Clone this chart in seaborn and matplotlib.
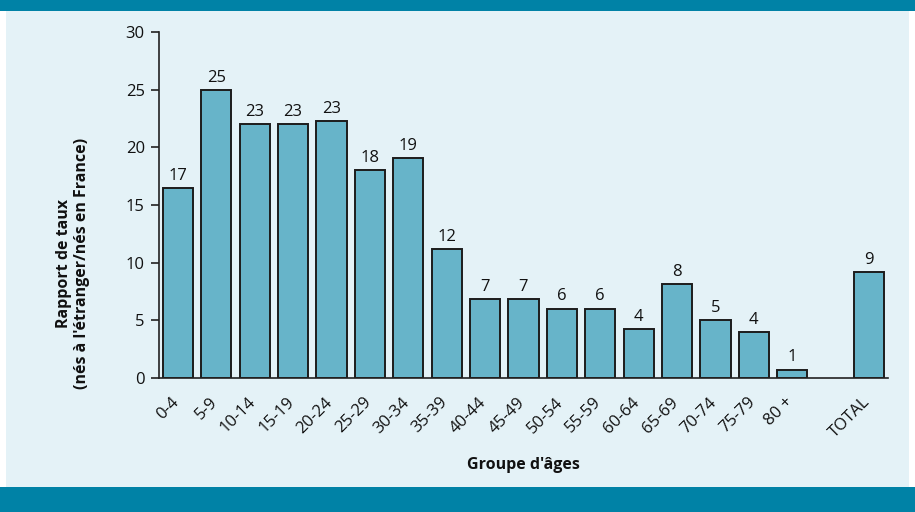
import matplotlib
matplotlib.use("Agg")
import matplotlib.pyplot as plt
from matplotlib.patches import Rectangle
from matplotlib.transforms import ScaledTranslation
import seaborn as sns
import pandas as pd

# ---- data ----
groups = ["0-4", "5-9", "10-14", "15-19", "20-24", "25-29", "30-34", "35-39",
          "40-44", "45-49", "50-54", "55-59", "60-64", "65-69", "70-74",
          "75-79", "80 +", "TOTAL"]
values = [16.5, 25.0, 22.0, 22.0, 22.3, 18.0, 19.1, 11.2,
          6.8, 6.8, 6.0, 6.0, 4.25, 8.1, 5.0,
          3.97, 0.7, 9.2]
value_labels = ["17", "25", "23", "23", "23", "18", "19", "12",
                "7", "7", "6", "6", "4", "8", "5",
                "4", "1", "9"]
order = groups[:17] + [" "] + groups[17:]   # empty slot before TOTAL
tick_labels = groups[:17] + [""] + groups[17:]
yticks = [0, 5, 10, 15, 20, 25, 30]

df = pd.DataFrame({"groupe": groups, "valeur": values})

sns.set_theme(style="white")
plt.rcParams["font.family"] = ["Open Sans", "DejaVu Sans"]

W, H = 915, 512
fig = plt.figure(figsize=(W / 100, H / 100), dpi=100, facecolor="white")

bg = "#e4f2f7"
band = "#0082a6"
fig.patches.append(Rectangle((6 / W, 0), (W - 12) / W, 1, transform=fig.transFigure,
                             facecolor=bg, edgecolor="none", zorder=-10))
fig.patches.append(Rectangle((0, 1 - 11 / H), 1, 11 / H, transform=fig.transFigure,
                             facecolor=band, edgecolor="none", zorder=-9))
fig.patches.append(Rectangle((0, 0), 1, 25 / H, transform=fig.transFigure,
                             facecolor=band, edgecolor="none", zorder=-9))

x0, x1 = 158.7, 888.3
y0, y1 = 377.7, 32.3
ax = fig.add_axes([x0 / W, 1 - y0 / H, (x1 - x0) / W, (y0 - y1) / H])
ax.set_facecolor("none")

sns.barplot(data=df, x="groupe", y="valeur", order=order, ax=ax,
            color="#67b4c9", saturation=1, width=0.79,
            edgecolor="#1c1c1c", linewidth=1.4)

for cont in ax.containers:
    ax.bar_label(cont, labels=value_labels, padding=3, fontsize=12, color="#111111")

ax.set_ylim(0, 30)
ax.set_xlim(-0.5, len(order) - 0.5)
ax.set_yticks(yticks)
ax.set_yticklabels([str(v) for v in yticks], fontsize=12, color="#111111")

ax.set_xticks(range(len(order)))
ax.set_xticklabels(tick_labels, rotation=45, ha="right", rotation_mode="anchor",
                   fontsize=12, color="#111111")
ax.tick_params(axis="x", which="major", length=0, pad=12)
shift = ScaledTranslation(-7 / 100, 0, fig.dpi_scale_trans)
for lab in ax.get_xticklabels():
    lab.set_transform(lab.get_transform() + shift)
ax.set_xticks([i - 0.5 for i in range(len(order) + 1)], minor=True)
ax.tick_params(axis="x", which="minor", length=6, width=1.2, color="#222222", direction="out")
ax.tick_params(axis="y", length=6, width=1.2, color="#222222", direction="out", left=True, pad=4)

for s in ["top", "right"]:
    ax.spines[s].set_visible(False)
for s in ["left", "bottom"]:
    ax.spines[s].set_color("#222222")
    ax.spines[s].set_linewidth(1.2)

ax.set_xlabel("Groupe d'âges", fontsize=11.5, fontweight="bold", color="#111111")
ax.xaxis.set_label_coords(0.5, -(457 - y0) / (y0 - y1))
ax.set_ylabel("Rapport de taux\n(nés à l'étranger/nés en France)", fontsize=11.5,
              fontweight="bold", color="#111111", linespacing=1.15)
ax.yaxis.set_label_coords((90 - x0) / (x1 - x0), (y0 - 263) / (y0 - y1))

fig.savefig("out.png", dpi=100, facecolor=fig.get_facecolor())
